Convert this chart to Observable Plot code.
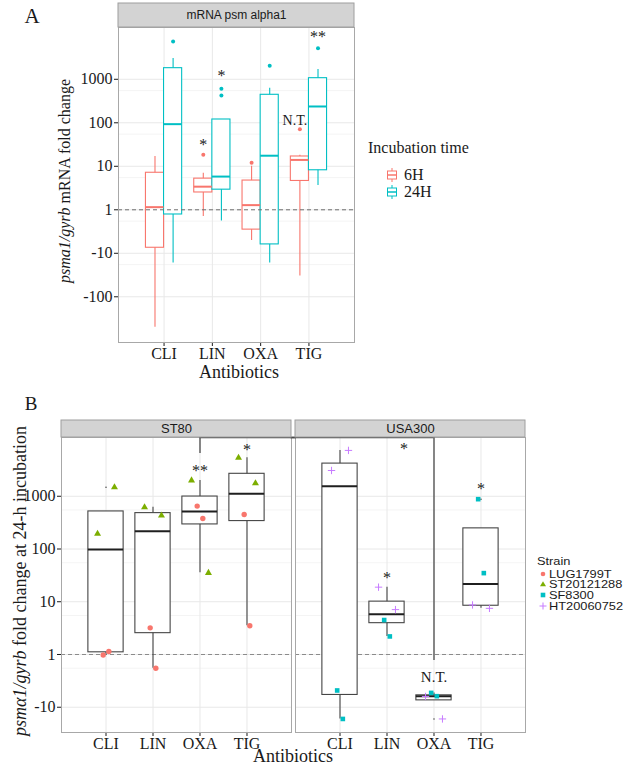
<!DOCTYPE html>
<html><head><meta charset="utf-8">
<script src="https://cdn.jsdelivr.net/npm/d3@7"></script>
<script src="https://cdn.jsdelivr.net/npm/@observablehq/plot@0.6"></script>
<style>
body{margin:0;background:#fff;}
#wrap{position:relative;width:625px;height:767px;overflow:hidden;font-family:"Liberation Serif",serif;color:#1a1a1a;background:#fff;}
.abs{position:absolute;white-space:nowrap;line-height:1;}
.c{transform:translate(-50%,-50%);}
.rot{transform:translate(-50%,-50%) rotate(-90deg);}
.lm{position:absolute;display:block;line-height:0;}
.lm svg{display:block;}
.sans{font-family:"Liberation Sans",Arial,sans-serif;}
</style></head>
<body><div id="wrap"></div>
<script>
// ---------- shared categories and ticks ----------
const antibiotics = ["CLI", "LIN", "OXA", "TIG"];
const incubationTimes = ["6H", "24H"];
const yTicksA = [0.01, 0.1, 1, 10, 100, 1000];
const yTicksB = [0.1, 1, 10, 100, 1000];

// ---------- Panel A: box statistics ----------
const a6hLower = [0.002, 0.70, 0.197, 0.03];
const a6hQ1 = [0.134, 2.5, 0.35, 4.6];
const a6hMedian = [1.15, 3.4, 1.28, 14];
const a6hQ3 = [7.1, 5.2, 4.7, 16.8];
const a6hUpper = [16.8, 6.9, 10, 18];
const a6hOutliers = [[], [18.4], [12], [71]];
const a24hLower = [0.06, 0.55, 0.06, 3.6];
const a24hQ1 = [0.78, 2.9, 0.16, 8.1];
const a24hMedian = [93, 5.8, 17.5, 237];
const a24hQ3 = [1800, 119, 440, 1060];
const a24hUpper = [3000, 119, 624, 1680];
const a24hOutliers = [[7400], [425, 605], [2040], [5200]];
const aNoteText = ["*", "*", "N.T.", "**"];
const aNoteAntibiotic = ["LIN", "LIN", "TIG", "TIG"];
const aNoteTime = ["6H", "24H", "6H", "24H"];
const aNoteValue = [37, 1380, 113, 11200];

const groups = ["ST80", "USA300"];
const strains = ["LUG1799T", "ST20121288", "SF8300", "HT20060752"];
const strainGroup = ["ST80", "ST80", "USA300", "USA300"];
const lug1799tRep1 = [0.98, 3.2, 650, 450];
const lug1799tRep2 = [1.14, 0.55, 378, 3.5];
const st20121288Rep1 = [194, 620, 2000, 5350];
const st20121288Rep2 = [1480, 432, 35.3, 1770];
const sf8300Rep1 = [0.208, 4.5, 0.187, 880];
const sf8300Rep2 = [0.06, 2.2, 0.162, 34.9];
const ht20060752Rep1 = [3080, 18.9, 0.16, 8.7];
const ht20060752Rep2 = [7400, 7.1, 0.06, 7.5];
const bNoteText = ["**", "*", "*", "*", "N.T.", "*"];
const bNoteGroup = ["ST80", "ST80", "USA300", "USA300", "USA300", "USA300"];
const bNotePos = [2, 3, 1.36, 1, 2, 3];
const bNoteValue = [3510, 8770, 9130, 32.9, 0.366, 1600];
const bracketGroups = ["ST80", "USA300"];
const bracketAntibiotic = "OXA";
const bracketLegEnds = [6460, 0.77];

// ---------- styling ----------
const timeColors = ["#F8766D", "#00BFC4"];
const strainColors = ["#F8766D", "#7CAE00", "#00BFC4", "#C77CFF"];
const gridMajor = "#e8e8e8", gridMinor = "#f1f1f1", frameColor = "#a8a8a8";
const stripFill = "#d3d3d3", stripStroke = "#9e9e9e";

const fmtFold = v => v >= 1 ? String(v) : "-" + Math.round(1 / v);
const minorTicks = t => t.slice(1).map((v, i) => (t[i] + v) / 2);

function stripBackground(h) {
  return (index, scales, values, dimensions) => {
    let xr = scales.x && scales.x.range ? scales.x.range() : [dimensions.marginLeft, dimensions.width - dimensions.marginRight];
    let yr = scales.y && scales.y.range ? scales.y.range() : [dimensions.marginTop, dimensions.height - dimensions.marginBottom];
    const top = Math.min(...yr);
    return d3.create("svg:rect")
      .attr("x", Math.min(...xr)).attr("y", top - h)
      .attr("width", Math.abs(xr[1] - xr[0])).attr("height", h)
      .attr("fill", stripFill).attr("stroke", stripStroke).node();
  };
}

// ---------- build panel A tables ----------
const dodgeWidth = 0.75, halfA = dodgeWidth / 4;
const statsA = [
  [a6hLower, a6hQ1, a6hMedian, a6hQ3, a6hUpper, a6hOutliers],
  [a24hLower, a24hQ1, a24hMedian, a24hQ3, a24hUpper, a24hOutliers]
];
const boxesA = [], outliersA = [];
incubationTimes.forEach((time, t) => {
  const [lo, q1, md, q3, up, out] = statsA[t];
  antibiotics.forEach((ab, i) => {
    const pos = i + (t === 0 ? -halfA : halfA);
    boxesA.push({time, ab, pos, lower: lo[i], q1: q1[i], median: md[i], q3: q3[i], upper: up[i]});
    out[i].forEach(v => outliersA.push({time, ab, pos, value: v}));
  });
});
const notesA = aNoteText.map((text, k) => ({
  text, value: aNoteValue[k],
  pos: antibiotics.indexOf(aNoteAntibiotic[k]) + (aNoteTime[k] === "6H" ? -halfA : halfA)
}));

const xDomainA = [-0.943, 3.943];
const yDomainA = [0.00089, 15500];

const plotA = Plot.plot({
  width: 360, height: 385,
  marginLeft: 118, marginRight: 6, marginTop: 27, marginBottom: 43,
  x: {type: "linear", domain: xDomainA, ticks: [0, 1, 2, 3], tickFormat: i => antibiotics[i], tickSize: 4, tickPadding: 1, label: null},
  y: {type: "log", domain: yDomainA, ticks: yTicksA, tickFormat: fmtFold, tickSize: 4, tickPadding: 2, label: null},
  color: {domain: incubationTimes, range: timeColors},
  style: {fontFamily: "Liberation Serif", fontSize: "16px", color: "#1a1a1a", background: "transparent", overflow: "visible"},
  marks: [
    Plot.ruleY(minorTicks(yTicksA), {stroke: gridMinor, strokeWidth: 0.8}),
    Plot.ruleY(yTicksA, {stroke: gridMajor, strokeWidth: 1}),
    Plot.ruleX(antibiotics.map((d, i) => i), {stroke: gridMajor, strokeWidth: 1}),
    Plot.ruleX(boxesA, {x: "pos", y1: "lower", y2: "upper", stroke: "time", strokeWidth: 1.1}),
    Plot.rect(boxesA, {x1: d => d.pos - halfA, x2: d => d.pos + halfA, y1: "q1", y2: "q3", fill: "white", stroke: "time", strokeWidth: 1.1}),
    Plot.ruleY(boxesA, {x1: d => d.pos - halfA, x2: d => d.pos + halfA, y: "median", stroke: "time", strokeWidth: 2}),
    Plot.dot(outliersA, {x: "pos", y: "value", r: 2, fill: "time", stroke: null}),
    Plot.ruleY([1], {stroke: "#6e6e6e", strokeDasharray: "4,3", strokeWidth: 1}),
    Plot.text(notesA.filter(d => d.text.startsWith("*")), {x: "pos", y: "value", text: "text", fontSize: 16, dy: 3, fill: "#1a1a1a"}),
    Plot.text(notesA.filter(d => !d.text.startsWith("*")), {x: "pos", y: "value", text: "text", fontSize: 14, dx: -5, fill: "#1a1a1a"}),
    Plot.frame({stroke: frameColor}),
    stripBackground(24),
    Plot.text(["mRNA psm alpha1"], {frameAnchor: "top", lineAnchor: "middle", dy: -12, text: d => d, fontFamily: "Liberation Sans", fontSize: 12, fill: "#1a1a1a"})
  ]
});

// ---------- build panel B tables ----------
const strainReps = [
  [lug1799tRep1, lug1799tRep2],
  [st20121288Rep1, st20121288Rep2],
  [sf8300Rep1, sf8300Rep2],
  [ht20060752Rep1, ht20060752Rep2]
];
const jitterStep = 0.12;
const pointsB = [];
strains.forEach((strain, si) => {
  strainReps[si].forEach((rep, r) => {
    const slot = si % 2 === 0 ? 1 + r : (r === 0 ? 0 : 3);
    rep.forEach((v, i) => pointsB.push({
      strain, group: strainGroup[si], ab: antibiotics[i], value: v,
      pos: i + (slot - 1.5) * jitterStep
    }));
  });
});
const halfB = dodgeWidth / 2;
const boxesB = [], outliersB = [];
groups.forEach(g => antibiotics.forEach((ab, i) => {
  const vals = pointsB.filter(p => p.group === g && p.ab === ab).map(p => p.value).sort(d3.ascending);
  const q1 = d3.quantile(vals, 0.25), med = d3.quantile(vals, 0.5), q3 = d3.quantile(vals, 0.75);
  const iqr = q3 - q1, lo = q1 - 1.5 * iqr, hi = q3 + 1.5 * iqr;
  const inside = vals.filter(v => v >= lo && v <= hi);
  boxesB.push({group: g, ab, idx: i, q1, med, q3, lower: d3.min(inside), upper: d3.max(inside)});
  vals.filter(v => v < lo || v > hi).forEach(v => outliersB.push({group: g, idx: i, value: v}));
}));
const notesB = bNoteText.map((text, k) => ({text, group: bNoteGroup[k], pos: bNotePos[k], value: bNoteValue[k]}));

const xDomainB = [-0.947, 3.947];
const yDomainB = [0.0332, 13000];
const bracketIdx = antibiotics.indexOf(bracketAntibiotic);
const bracketLegs = bracketGroups.map((g, k) => ({group: g, pos: bracketIdx, end: bracketLegEnds[k]}));
const bracketSpans = [
  {group: bracketGroups[0], x1: bracketIdx, x2: xDomainB[1] + 0.1},
  {group: bracketGroups[1], x1: xDomainB[0] - 0.1, x2: bracketIdx}
];

const pointStyles = [
  {symbol: "circle", r: 2.7, fill: strainColors[0], stroke: null},
  {symbol: "triangle", r: 2.6, fill: strainColors[1], stroke: null},
  {symbol: "square", r: 2.6, fill: strainColors[2], stroke: null},
  {symbol: "plus", r: 2.5, fill: "none", stroke: strainColors[3], strokeWidth: 1}
];

const plotB = Plot.plot({
  width: 625, height: 382,
  marginLeft: 60, marginRight: 99, marginTop: 52, marginBottom: 35,
  fx: {domain: groups, padding: 0.017, axis: null, label: null},
  x: {type: "linear", domain: xDomainB, ticks: [0, 1, 2, 3], tickFormat: i => antibiotics[i], tickSize: 4, tickPadding: 1, label: null},
  y: {type: "log", domain: yDomainB, ticks: yTicksB, tickFormat: fmtFold, tickSize: 4, tickPadding: 2, label: null},
  style: {fontFamily: "Liberation Serif", fontSize: "16px", color: "#1a1a1a", background: "transparent", overflow: "visible"},
  marks: [
    Plot.ruleY(minorTicks(yTicksB), {stroke: gridMinor, strokeWidth: 0.8}),
    Plot.ruleY(yTicksB, {stroke: gridMajor, strokeWidth: 1}),
    Plot.ruleX(antibiotics.map((d, i) => i), {stroke: gridMajor, strokeWidth: 1}),
    Plot.ruleY([1], {stroke: "#8a8a8a", strokeDasharray: "4,3", strokeWidth: 1}),
    Plot.ruleX(boxesB, {fx: "group", x: "idx", y1: "lower", y2: "upper", stroke: "#454545", strokeWidth: 1.1}),
    Plot.rect(boxesB, {fx: "group", x1: d => d.idx - halfB, x2: d => d.idx + halfB, y1: "q1", y2: "q3", fill: "white", stroke: "#454545", strokeWidth: 1.1}),
    Plot.ruleY(boxesB, {fx: "group", x1: d => d.idx - halfB, x2: d => d.idx + halfB, y: "med", stroke: "#1f1f1f", strokeWidth: 2}),
    Plot.dot(outliersB, {fx: "group", x: "idx", y: "value", r: 0.7, fill: "#333", stroke: null}),
    ...strains.map((s, si) => Plot.dot(pointsB.filter(p => p.strain === s), {fx: "group", x: "pos", y: "value", ...pointStyles[si]})),
    Plot.text(notesB.filter(d => d.text.startsWith("*")), {fx: "group", x: "pos", y: "value", text: "text", fontSize: 16, dy: 3, fill: "#1a1a1a"}),
    Plot.text(notesB.filter(d => !d.text.startsWith("*")), {fx: "group", x: "pos", y: "value", text: "text", fontSize: 15, fill: "#1a1a1a"}),
    Plot.frame({stroke: frameColor}),
    Plot.ruleX(bracketLegs, {fx: "group", x: "pos", y1: yDomainB[1], y2: "end", stroke: "#4a4a4a", strokeWidth: 1.3}),
    Plot.ruleY(bracketSpans, {fx: "group", x1: "x1", x2: "x2", y: yDomainB[1], stroke: "#4a4a4a", strokeWidth: 1.3}),
    stripBackground(17),
    Plot.text(groups, {fx: d => d, text: d => d, frameAnchor: "top", lineAnchor: "middle", dy: -8.5, fontFamily: "Liberation Sans", fontSize: 13, fill: "#1a1a1a"})
  ]
});

// ---------- assemble the page ----------
const wrap = document.getElementById("wrap");
plotA.style.position = "absolute"; plotA.style.left = "0px"; plotA.style.top = "0px";
plotB.style.position = "absolute"; plotB.style.left = "0px"; plotB.style.top = "385px";
wrap.appendChild(plotA);
wrap.appendChild(plotB);

function addText(html, x, y, cls, size, extra) {
  const d = document.createElement("div");
  d.className = "abs " + cls;
  d.style.left = x + "px"; d.style.top = y + "px"; d.style.fontSize = size + "px";
  if (extra) Object.assign(d.style, extra);
  d.innerHTML = html;
  wrap.appendChild(d);
  return d;
}
// panel letters and axis titles
addText("A", 32, 16, "c", 21);
addText("B", 31, 403, "c", 19);
addText("<i>psma1/gyrb</i> mRNA fold change", 65, 181, "rot", 16);
addText("Antibiotics", 239, 372, "c", 18);
addText("<i>psm&alpha;1/gyrb</i> fold change at 24-h incubation", 20, 581, "rot", 18);
addText("Antibiotics", 293, 756, "c", 18);

// legend A
addText("Incubation time", 368, 148, "", 16, {transform: "translateY(-50%)"});
incubationTimes.forEach((t, k) => {
  const y = 175 + k * 17, c = timeColors[k];
  const g = document.createElement("div");
  g.className = "lm";
  g.style.left = "386px"; g.style.top = (y - 7) + "px";
  g.innerHTML = `<svg width="12" height="14"><line x1="6" y1="0" x2="6" y2="3" stroke="${c}"/><rect x="1.5" y="3" width="9" height="8" fill="white" stroke="${c}"/><line x1="1.5" x2="10.5" y1="7" y2="7" stroke="${c}" stroke-width="1.5"/><line x1="6" y1="11" x2="6" y2="14" stroke="${c}"/></svg>`;
  wrap.appendChild(g);
  addText(t, 404, y, "", 16, {transform: "translateY(-50%)"});
});

// legend B
const legendTextStyle = {transform: "translateY(-50%) scaleX(1.22)", transformOrigin: "left center", lineHeight: "10.5px"};
addText("Strain", 537, 561, "sans", 10.5, legendTextStyle);
const legendShapes = [
  c => `<circle cx="4" cy="4" r="2.3" fill="${c}"/>`,
  c => `<polygon points="4,1.2 7,6.3 1,6.3" fill="${c}"/>`,
  c => `<rect x="1.7" y="1.7" width="4.6" height="4.6" fill="${c}"/>`,
  c => `<path d="M4,0.5V7.5M0.5,4H7.5" stroke="${c}" stroke-width="1"/>`
];
strains.forEach((s, k) => {
  const y = 573.5 + k * 10.8;
  const g = document.createElement("div");
  g.className = "lm";
  g.style.left = "539px"; g.style.top = (y - 4) + "px";
  g.innerHTML = `<svg width="8" height="8">${legendShapes[k](strainColors[k])}</svg>`;
  wrap.appendChild(g);
  addText(s, 549, y, "sans", 10.5, legendTextStyle);
});
</script>
</body></html>
